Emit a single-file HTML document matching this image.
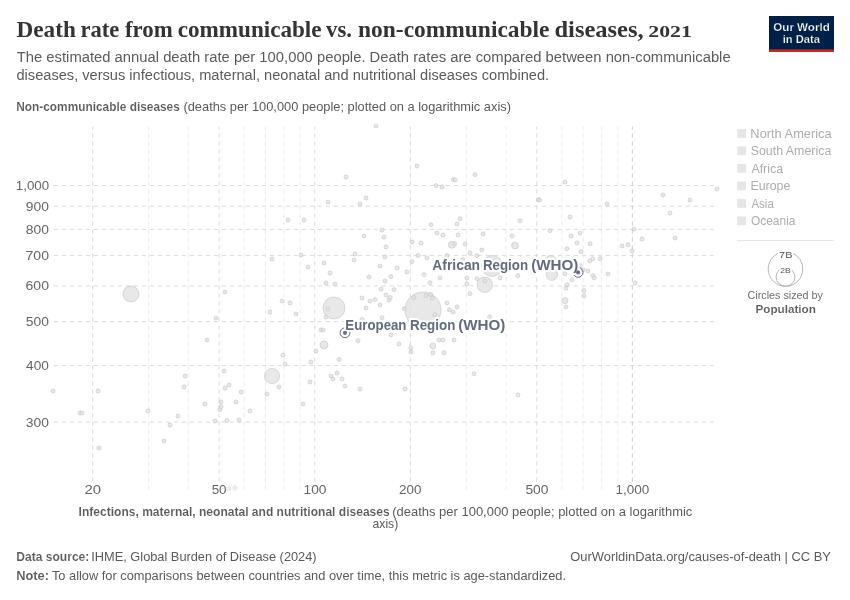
<!DOCTYPE html>
<html lang="en"><head><meta charset="utf-8"><title>Death rate from communicable vs. non-communicable diseases, 2021</title>
<style>html,body{margin:0;padding:0;background:#fff}svg{display:block}text{font-family:"Liberation Sans",Arial,sans-serif}.ttl{font-family:"Liberation Serif","Times New Roman",serif;font-weight:bold}.b{font-weight:bold}</style></head><body>
<svg width="850" height="600" viewBox="0 0 850 600">
<rect width="850" height="600" fill="#fff"/>
<rect x="769" y="16" width="65" height="36" fill="#002147"/><rect x="769" y="49.4" width="65" height="2.6" fill="#ce261e"/>
<g stroke="#dbdbdb" stroke-width="1" stroke-dasharray="4.1,3.9" fill="none">
<line x1="53.7" y1="185.5" x2="717" y2="185.5"/>
<line x1="53.7" y1="206.2" x2="717" y2="206.2"/>
<line x1="53.7" y1="229.4" x2="717" y2="229.4"/>
<line x1="53.7" y1="255.6" x2="717" y2="255.6"/>
<line x1="53.7" y1="285.9" x2="717" y2="285.9"/>
<line x1="53.7" y1="321.7" x2="717" y2="321.7"/>
<line x1="53.7" y1="365.6" x2="717" y2="365.6"/>
<line x1="53.7" y1="422.1" x2="717" y2="422.1"/>
<line x1="92.7" y1="489.6" x2="92.7" y2="126.6"/>
<line x1="148.6" y1="489.6" x2="148.6" y2="126.6" stroke="#ebebeb"/>
<line x1="188.3" y1="489.6" x2="188.3" y2="126.6" stroke="#ebebeb"/>
<line x1="219.1" y1="489.6" x2="219.1" y2="126.6"/>
<line x1="244.2" y1="489.6" x2="244.2" y2="126.6" stroke="#ebebeb"/>
<line x1="265.5" y1="489.6" x2="265.5" y2="126.6" stroke="#ebebeb"/>
<line x1="283.9" y1="489.6" x2="283.9" y2="126.6" stroke="#ebebeb"/>
<line x1="300.2" y1="489.6" x2="300.2" y2="126.6" stroke="#ebebeb"/>
<line x1="314.7" y1="489.6" x2="314.7" y2="126.6"/>
<line x1="410.3" y1="489.6" x2="410.3" y2="126.6"/>
<line x1="466.3" y1="489.6" x2="466.3" y2="126.6" stroke="#ebebeb"/>
<line x1="506.0" y1="489.6" x2="506.0" y2="126.6" stroke="#ebebeb"/>
<line x1="536.7" y1="489.6" x2="536.7" y2="126.6"/>
<line x1="561.9" y1="489.6" x2="561.9" y2="126.6" stroke="#ebebeb"/>
<line x1="583.2" y1="489.6" x2="583.2" y2="126.6" stroke="#ebebeb"/>
<line x1="601.6" y1="489.6" x2="601.6" y2="126.6" stroke="#ebebeb"/>
<line x1="617.8" y1="489.6" x2="617.8" y2="126.6" stroke="#ebebeb"/>
<line x1="632.4" y1="489.6" x2="632.4" y2="126.6"/>
<line x1="632.4" y1="489.6" x2="632.4" y2="126.6" stroke="#d4d4d4"/>
</g>
<text y="36.9" font-size="24" class="ttl" fill="#343434"><tspan x="16.52" textLength="59.30" lengthAdjust="spacingAndGlyphs">Death</tspan> <tspan x="80.40" textLength="38.82" lengthAdjust="spacingAndGlyphs">rate</tspan> <tspan x="124.96" textLength="47.77" lengthAdjust="spacingAndGlyphs">from</tspan> <tspan x="177.78" textLength="143.78" lengthAdjust="spacingAndGlyphs">communicable</tspan> <tspan x="326.10" textLength="25.94" lengthAdjust="spacingAndGlyphs">vs.</tspan> <tspan x="358.07" textLength="191.44" lengthAdjust="spacingAndGlyphs">non-communicable</tspan> <tspan x="554.48" textLength="89.18" lengthAdjust="spacingAndGlyphs">diseases,</tspan> <tspan x="648.35" textLength="43.56" lengthAdjust="spacingAndGlyphs" font-size="17.2">2021</tspan></text>
<text x="16.75" y="62.4" textLength="713.88" lengthAdjust="spacingAndGlyphs" font-size="14.7" fill="#5b5b5b">The estimated annual death rate per 100,000 people. Death rates are compared between non-communicable</text>
<text x="16.50" y="80" textLength="532.63" lengthAdjust="spacingAndGlyphs" font-size="14.7" fill="#5b5b5b">diseases, versus infectious, maternal, neonatal and nutritional diseases combined.</text>
<text x="773.30" y="30.7" textLength="56.42" lengthAdjust="spacingAndGlyphs" font-size="11.6" class="b" fill="#fff" stroke="#002147" stroke-width="0.25">Our World</text>
<text x="782.78" y="42.8" textLength="37.23" lengthAdjust="spacingAndGlyphs" font-size="11.6" class="b" fill="#fff" stroke="#002147" stroke-width="0.25">in Data</text>
<text x="16.19" y="110.6" textLength="163.65" lengthAdjust="spacingAndGlyphs" font-size="12.6" class="b" fill="#5b5b5b" stroke="#fff" stroke-width="0.1">Non-communicable diseases</text>
<text x="183.44" y="110.6" textLength="327.52" lengthAdjust="spacingAndGlyphs" font-size="12.6" fill="#5b5b5b">(deaths per 100,000 people; plotted on a logarithmic axis)</text>
<text x="15.83" y="189.9" textLength="33.22" lengthAdjust="spacingAndGlyphs" font-size="12.4" fill="#666">1,000</text>
<text x="25.84" y="210.6" textLength="23.15" lengthAdjust="spacingAndGlyphs" font-size="12.4" fill="#666">900</text>
<text x="25.84" y="233.8" textLength="23.15" lengthAdjust="spacingAndGlyphs" font-size="12.4" fill="#666">800</text>
<text x="25.55" y="260.0" textLength="23.45" lengthAdjust="spacingAndGlyphs" font-size="12.4" fill="#666">700</text>
<text x="25.55" y="290.3" textLength="23.45" lengthAdjust="spacingAndGlyphs" font-size="12.4" fill="#666">600</text>
<text x="25.84" y="326.1" textLength="23.15" lengthAdjust="spacingAndGlyphs" font-size="12.4" fill="#666">500</text>
<text x="26.12" y="370.0" textLength="22.86" lengthAdjust="spacingAndGlyphs" font-size="12.4" fill="#666">400</text>
<text x="25.84" y="426.5" textLength="23.15" lengthAdjust="spacingAndGlyphs" font-size="12.4" fill="#666">300</text>
<text x="84.49" y="494.4" textLength="16.67" lengthAdjust="spacingAndGlyphs" font-size="12.4" fill="#666" stroke="#fff" stroke-width="4" stroke-linejoin="round" paint-order="stroke">20</text>
<text x="211.66" y="494.4" textLength="14.93" lengthAdjust="spacingAndGlyphs" font-size="12.4" fill="#666" stroke="#fff" stroke-width="4" stroke-linejoin="round" paint-order="stroke">50</text>
<text x="303.49" y="494.4" textLength="23.00" lengthAdjust="spacingAndGlyphs" font-size="12.4" fill="#666" stroke="#fff" stroke-width="4" stroke-linejoin="round" paint-order="stroke">100</text>
<text x="399.09" y="494.4" textLength="22.38" lengthAdjust="spacingAndGlyphs" font-size="12.4" fill="#666" stroke="#fff" stroke-width="4" stroke-linejoin="round" paint-order="stroke">200</text>
<text x="525.44" y="494.4" textLength="23.04" lengthAdjust="spacingAndGlyphs" font-size="12.4" fill="#666" stroke="#fff" stroke-width="4" stroke-linejoin="round" paint-order="stroke">500</text>
<text x="615.51" y="494.4" textLength="33.85" lengthAdjust="spacingAndGlyphs" font-size="12.4" fill="#666" stroke="#fff" stroke-width="4" stroke-linejoin="round" paint-order="stroke">1,000</text>
<text x="78.58" y="515.7" textLength="311.12" lengthAdjust="spacingAndGlyphs" font-size="12.6" class="b" fill="#5b5b5b" stroke="#fff" stroke-width="0.1">Infections, maternal, neonatal and nutritional diseases</text>
<text x="392.23" y="515.7" textLength="300.10" lengthAdjust="spacingAndGlyphs" font-size="12.6" fill="#5b5b5b">(deaths per 100,000 people; plotted on a logarithmic</text>
<text x="372.51" y="527.6" textLength="25.80" lengthAdjust="spacingAndGlyphs" font-size="12.6" fill="#5b5b5b">axis)</text>
<text x="750.38" y="137.6" textLength="81.27" lengthAdjust="spacingAndGlyphs" font-size="12.6" fill="#adadad">North America</text>
<text x="750.66" y="155.1" textLength="80.65" lengthAdjust="spacingAndGlyphs" font-size="12.6" fill="#adadad">South America</text>
<text x="751.40" y="172.6" textLength="31.75" lengthAdjust="spacingAndGlyphs" font-size="12.6" fill="#adadad">Africa</text>
<text x="750.42" y="190.1" textLength="40.00" lengthAdjust="spacingAndGlyphs" font-size="12.6" fill="#adadad">Europe</text>
<text x="751.40" y="207.6" textLength="22.40" lengthAdjust="spacingAndGlyphs" font-size="12.6" fill="#adadad">Asia</text>
<text x="750.92" y="225.1" textLength="44.60" lengthAdjust="spacingAndGlyphs" font-size="12.6" fill="#adadad">Oceania</text>
<text x="747.52" y="298.7" textLength="75.37" lengthAdjust="spacingAndGlyphs" font-size="11.2" fill="#6e6e6e">Circles sized by</text>
<text x="755.43" y="313" textLength="60.50" lengthAdjust="spacingAndGlyphs" font-size="11.4" class="b" fill="#5b5b5b" stroke="#fff" stroke-width="0.1">Population</text>
<text x="16.20" y="560.7" textLength="73.16" lengthAdjust="spacingAndGlyphs" font-size="13" class="b" fill="#5b5b5b" stroke="#fff" stroke-width="0.1">Data source:</text>
<text x="91.27" y="560.7" textLength="225.33" lengthAdjust="spacingAndGlyphs" font-size="13" fill="#5b5b5b">IHME, Global Burden of Disease (2024)</text>
<text x="570.26" y="560.7" textLength="260.72" lengthAdjust="spacingAndGlyphs" font-size="13" fill="#5b5b5b">OurWorldinData.org/causes-of-death | CC BY</text>
<text x="16.16" y="580" textLength="32.85" lengthAdjust="spacingAndGlyphs" font-size="13" class="b" fill="#5b5b5b" stroke="#fff" stroke-width="0.1">Note:</text>
<text x="51.95" y="580" textLength="514.03" lengthAdjust="spacingAndGlyphs" font-size="13" fill="#5b5b5b">To allow for comparisons between countries and over time, this metric is age-standardized.</text>
<g fill="#e2e2e2" fill-opacity="0.8" stroke="#c4c4c4" stroke-width="0.6">
<circle cx="423" cy="310" r="18"/>
<circle cx="334" cy="308" r="11"/>
<circle cx="492.2" cy="266" r="10.5"/>
<circle cx="131" cy="294" r="8"/>
<circle cx="484.8" cy="284.8" r="7.7"/>
<circle cx="272" cy="376" r="7.6"/>
<circle cx="550.5" cy="261.5" r="6"/>
<circle cx="551.9" cy="274.75" r="5.7"/>
<circle cx="324" cy="345" r="4"/>
<circle cx="451.9" cy="244.75" r="3.5"/>
<circle cx="515" cy="245.6" r="3.4"/>
<circle cx="565" cy="300.6" r="3"/>
<circle cx="432.9" cy="345.9" r="3"/>
<circle cx="376" cy="126" r="2.0"/>
<circle cx="346" cy="177" r="2.0"/>
<circle cx="328" cy="202" r="2.0"/>
<circle cx="366" cy="198" r="2.0"/>
<circle cx="360" cy="204" r="2.0"/>
<circle cx="288" cy="220" r="2.0"/>
<circle cx="304" cy="220" r="2.0"/>
<circle cx="382" cy="230" r="2.0"/>
<circle cx="364" cy="236" r="2.0"/>
<circle cx="384" cy="237" r="2.0"/>
<circle cx="417" cy="166" r="2.0"/>
<circle cx="436" cy="185.6" r="2.0"/>
<circle cx="442" cy="187" r="2.0"/>
<circle cx="453.4" cy="179.6" r="2.0"/>
<circle cx="455.2" cy="180" r="2.0"/>
<circle cx="475" cy="174.6" r="2.0"/>
<circle cx="538.7" cy="199.8" r="2.0"/>
<circle cx="539.6" cy="200" r="2.0"/>
<circle cx="460" cy="218.8" r="2.0"/>
<circle cx="457" cy="224" r="2.0"/>
<circle cx="431" cy="224.8" r="2.0"/>
<circle cx="520" cy="220.8" r="2.0"/>
<circle cx="437" cy="233" r="2.0"/>
<circle cx="443" cy="235" r="2.0"/>
<circle cx="458" cy="235" r="2.0"/>
<circle cx="483" cy="234" r="2.0"/>
<circle cx="512" cy="235.8" r="2.0"/>
<circle cx="550" cy="230.6" r="2.0"/>
<circle cx="565" cy="182" r="2.0"/>
<circle cx="607" cy="204" r="2.0"/>
<circle cx="570" cy="217" r="2.0"/>
<circle cx="571" cy="236" r="2.0"/>
<circle cx="580" cy="233" r="2.0"/>
<circle cx="634" cy="229" r="2.0"/>
<circle cx="642" cy="239" r="2.0"/>
<circle cx="663" cy="195" r="2.0"/>
<circle cx="670" cy="213" r="2.0"/>
<circle cx="675" cy="238" r="2.0"/>
<circle cx="690" cy="200" r="2.0"/>
<circle cx="717" cy="189" r="2.0"/>
<circle cx="216" cy="318" r="2.0"/>
<circle cx="207" cy="340" r="2.0"/>
<circle cx="225" cy="292" r="2.0"/>
<circle cx="272" cy="259" r="2.0"/>
<circle cx="301" cy="255" r="2.0"/>
<circle cx="308" cy="267" r="2.0"/>
<circle cx="324" cy="263" r="2.0"/>
<circle cx="330" cy="273" r="2.0"/>
<circle cx="326" cy="283" r="2.0"/>
<circle cx="335" cy="284" r="2.0"/>
<circle cx="354" cy="260" r="2.0"/>
<circle cx="355" cy="254" r="2.0"/>
<circle cx="386" cy="247" r="2.0"/>
<circle cx="385" cy="257" r="2.0"/>
<circle cx="380" cy="266" r="2.0"/>
<circle cx="369" cy="277" r="2.0"/>
<circle cx="385" cy="281" r="2.0"/>
<circle cx="381" cy="289" r="2.0"/>
<circle cx="386" cy="295" r="2.0"/>
<circle cx="362" cy="298" r="2.0"/>
<circle cx="370" cy="301" r="2.0"/>
<circle cx="375" cy="299.6" r="2.0"/>
<circle cx="380" cy="305" r="2.0"/>
<circle cx="389" cy="300" r="2.0"/>
<circle cx="366" cy="308" r="2.0"/>
<circle cx="282" cy="301" r="2.0"/>
<circle cx="290" cy="303" r="2.0"/>
<circle cx="270" cy="312" r="2.0"/>
<circle cx="296" cy="314" r="2.0"/>
<circle cx="328" cy="309" r="2.0"/>
<circle cx="326" cy="317" r="2.0"/>
<circle cx="362" cy="319.5" r="2.0"/>
<circle cx="382" cy="317.7" r="2.0"/>
<circle cx="321" cy="330" r="2.0"/>
<circle cx="323" cy="330" r="2.0"/>
<circle cx="358" cy="340.7" r="2.0"/>
<circle cx="316" cy="351" r="2.0"/>
<circle cx="283" cy="355" r="2.0"/>
<circle cx="339" cy="359.6" r="2.0"/>
<circle cx="391" cy="334.8" r="2.0"/>
<circle cx="412.25" cy="241.9" r="2.0"/>
<circle cx="421" cy="242.9" r="2.0"/>
<circle cx="454.75" cy="243.75" r="2.0"/>
<circle cx="465" cy="244" r="2.0"/>
<circle cx="481.9" cy="250" r="2.0"/>
<circle cx="470" cy="252.9" r="2.0"/>
<circle cx="476.9" cy="255.6" r="2.0"/>
<circle cx="446.9" cy="255.6" r="2.0"/>
<circle cx="462.75" cy="259.4" r="2.0"/>
<circle cx="418.1" cy="255.6" r="2.0"/>
<circle cx="426.9" cy="257.9" r="2.0"/>
<circle cx="411.9" cy="261.6" r="2.0"/>
<circle cx="397.1" cy="267.9" r="2.0"/>
<circle cx="406.9" cy="271.9" r="2.0"/>
<circle cx="390.9" cy="276.6" r="2.0"/>
<circle cx="424" cy="274.75" r="2.0"/>
<circle cx="440" cy="277.9" r="2.0"/>
<circle cx="430" cy="282.75" r="2.0"/>
<circle cx="466.9" cy="277.9" r="2.0"/>
<circle cx="466.9" cy="283.75" r="2.0"/>
<circle cx="477.1" cy="278.75" r="2.0"/>
<circle cx="485" cy="281" r="2.0"/>
<circle cx="394" cy="289.6" r="2.0"/>
<circle cx="390.25" cy="297.5" r="2.0"/>
<circle cx="470" cy="293.75" r="2.0"/>
<circle cx="446.9" cy="302.9" r="2.0"/>
<circle cx="456.9" cy="306.9" r="2.0"/>
<circle cx="449.4" cy="309.75" r="2.0"/>
<circle cx="404.4" cy="308.75" r="2.0"/>
<circle cx="414" cy="297.5" r="2.0"/>
<circle cx="426" cy="295.6" r="2.0"/>
<circle cx="430.6" cy="294.4" r="2.0"/>
<circle cx="432.25" cy="298.1" r="2.0"/>
<circle cx="577" cy="242.9" r="2.0"/>
<circle cx="590.1" cy="243.75" r="2.0"/>
<circle cx="566.9" cy="248.75" r="2.0"/>
<circle cx="581" cy="251.6" r="2.0"/>
<circle cx="592.9" cy="258.75" r="2.0"/>
<circle cx="589.75" cy="260.9" r="2.0"/>
<circle cx="580.2" cy="265.6" r="2.0"/>
<circle cx="583.2" cy="269.75" r="2.0"/>
<circle cx="588.1" cy="271" r="2.0"/>
<circle cx="592.9" cy="275.6" r="2.0"/>
<circle cx="594.1" cy="277.9" r="2.0"/>
<circle cx="565" cy="273.75" r="2.0"/>
<circle cx="572" cy="279.75" r="2.0"/>
<circle cx="517.9" cy="275.6" r="2.0"/>
<circle cx="500" cy="277.9" r="2.0"/>
<circle cx="567" cy="284.75" r="2.0"/>
<circle cx="566" cy="288.1" r="2.0"/>
<circle cx="583.9" cy="290.6" r="2.0"/>
<circle cx="583.9" cy="295.9" r="2.0"/>
<circle cx="566" cy="306.9" r="2.0"/>
<circle cx="622" cy="245.9" r="2.0"/>
<circle cx="628" cy="244.75" r="2.0"/>
<circle cx="632" cy="251" r="2.0"/>
<circle cx="600.1" cy="258.75" r="2.0"/>
<circle cx="608" cy="274" r="2.0"/>
<circle cx="635.1" cy="282.9" r="2.0"/>
<circle cx="435" cy="314.75" r="2.0"/>
<circle cx="453.1" cy="311.9" r="2.0"/>
<circle cx="489.6" cy="316.9" r="2.0"/>
<circle cx="399" cy="344" r="2.0"/>
<circle cx="410.9" cy="347.9" r="2.0"/>
<circle cx="410.9" cy="351.9" r="2.0"/>
<circle cx="439" cy="340" r="2.0"/>
<circle cx="443.1" cy="340" r="2.0"/>
<circle cx="454" cy="340" r="2.0"/>
<circle cx="432.9" cy="352.75" r="2.0"/>
<circle cx="444" cy="352.75" r="2.0"/>
<circle cx="474" cy="373.75" r="2.0"/>
<circle cx="53" cy="391" r="2.0"/>
<circle cx="98" cy="391" r="2.0"/>
<circle cx="80" cy="413" r="2.0"/>
<circle cx="82" cy="413" r="2.0"/>
<circle cx="99" cy="448" r="2.0"/>
<circle cx="148" cy="411" r="2.0"/>
<circle cx="185" cy="376" r="2.0"/>
<circle cx="184" cy="387" r="2.0"/>
<circle cx="178" cy="416" r="2.0"/>
<circle cx="170" cy="425" r="2.0"/>
<circle cx="164" cy="441" r="2.0"/>
<circle cx="205" cy="404" r="2.0"/>
<circle cx="215" cy="421" r="2.0"/>
<circle cx="224" cy="371" r="2.0"/>
<circle cx="229" cy="385" r="2.0"/>
<circle cx="225" cy="388" r="2.0"/>
<circle cx="241" cy="392" r="2.0"/>
<circle cx="236" cy="402" r="2.0"/>
<circle cx="250" cy="411" r="2.0"/>
<circle cx="227" cy="420.6" r="2.0"/>
<circle cx="239" cy="420" r="2.0"/>
<circle cx="285" cy="364" r="2.0"/>
<circle cx="279" cy="387" r="2.0"/>
<circle cx="267" cy="394" r="2.0"/>
<circle cx="311" cy="362" r="2.0"/>
<circle cx="310" cy="382" r="2.0"/>
<circle cx="303" cy="404" r="2.0"/>
<circle cx="331" cy="376" r="2.0"/>
<circle cx="333" cy="379" r="2.0"/>
<circle cx="337" cy="373" r="2.0"/>
<circle cx="342" cy="379" r="2.0"/>
<circle cx="345" cy="386" r="2.0"/>
<circle cx="360" cy="389" r="2.0"/>
<circle cx="405" cy="389" r="2.0"/>
<circle cx="518" cy="395" r="2.0"/>
<circle cx="220.9" cy="401.9" r="2.0"/>
<circle cx="220.9" cy="406.8" r="2.0"/>
<circle cx="219.9" cy="409.7" r="2.0"/>
</g>
<g fill="#ececec" fill-opacity="0.8" stroke="#dcdcdc" stroke-width="0.6">
<circle cx="229" cy="488.8" r="2.1"/>
<circle cx="235" cy="487.8" r="2.1"/>
</g>
<circle cx="345" cy="332.8" r="4.9" fill="none" stroke="#636b7f" stroke-width="1"/>
<circle cx="578.1" cy="272.4" r="4.9" fill="none" stroke="#636b7f" stroke-width="1"/>
<text y="330.0" font-size="14" class="b" fill="#636b7f" stroke="#fff" stroke-width="4" stroke-linejoin="round" paint-order="stroke"><tspan x="345.35" textLength="61.13" lengthAdjust="spacingAndGlyphs">European</tspan> <tspan x="410.05" textLength="45.26" lengthAdjust="spacingAndGlyphs">Region</tspan> <tspan x="458.19" textLength="47.18" lengthAdjust="spacingAndGlyphs">(WHO)</tspan></text>
<text y="270.2" font-size="14" class="b" fill="#636b7f" stroke="#fff" stroke-width="4" stroke-linejoin="round" paint-order="stroke"><tspan x="432.30" textLength="47.77" lengthAdjust="spacingAndGlyphs">African</tspan> <tspan x="482.95" textLength="45.16" lengthAdjust="spacingAndGlyphs">Region</tspan> <tspan x="531.19" textLength="47.07" lengthAdjust="spacingAndGlyphs">(WHO)</tspan></text>
<circle cx="345" cy="332.8" r="2.1" fill="#687085"/>
<circle cx="578.1" cy="272.4" r="2.1" fill="#687085"/>
<rect x="737.2" y="129.0" width="8.8" height="8.8" fill="#e6e6e6"/>
<rect x="737.2" y="146.5" width="8.8" height="8.8" fill="#e6e6e6"/>
<rect x="737.2" y="164.0" width="8.8" height="8.8" fill="#e6e6e6"/>
<rect x="737.2" y="181.5" width="8.8" height="8.8" fill="#e6e6e6"/>
<rect x="737.2" y="199.0" width="8.8" height="8.8" fill="#e6e6e6"/>
<rect x="737.2" y="216.5" width="8.8" height="8.8" fill="#e6e6e6"/>
<line x1="737" y1="240.5" x2="834" y2="240.5" stroke="#e7e7e7" stroke-width="1"/>
<circle cx="785.5" cy="269" r="17.3" fill="none" stroke="#a5a5a5" stroke-width="0.8"/>
<circle cx="785.5" cy="276.9" r="9.4" fill="none" stroke="#a5a5a5" stroke-width="0.8"/>
<text x="779.11" y="257.5" textLength="13.32" lengthAdjust="spacingAndGlyphs" font-size="9.3" fill="#555" stroke="#fff" stroke-width="3" stroke-linejoin="round" paint-order="stroke">7B</text>
<text x="780.26" y="272.5" textLength="10.48" lengthAdjust="spacingAndGlyphs" font-size="7.9" fill="#555" stroke="#fff" stroke-width="3" stroke-linejoin="round" paint-order="stroke">2B</text>
</svg></body></html>
